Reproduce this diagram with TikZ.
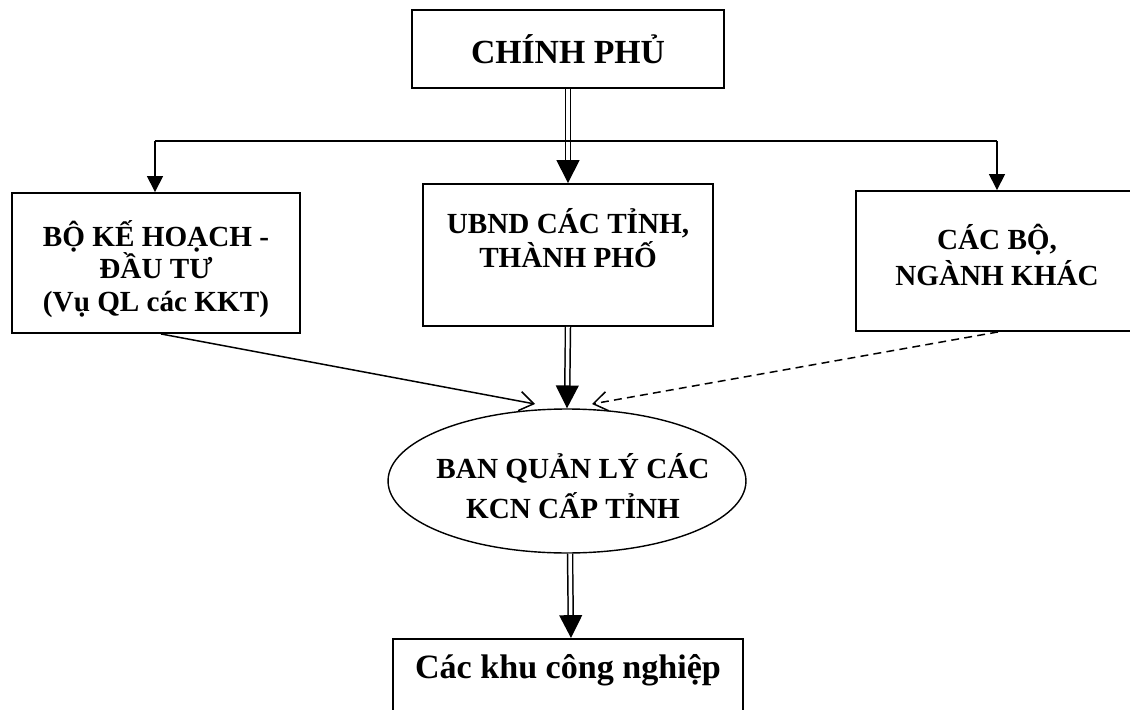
\documentclass[tikz,border=0pt]{standalone}
\usepackage{fontspec}
\setmainfont{Liberation Serif}
\usetikzlibrary{arrows.meta,shapes.geometric}

\begin{document}
\begin{tikzpicture}[x=0.02cm,y=-0.02cm,
    khung/.style={draw,line width=1.1pt,inner sep=0pt},
    chu/.style={align=center,font=\bfseries\fontsize{16.6}{19.5}\selectfont},
    kep/.style={double,double distance=2pt,line width=0.85pt,
      -{Triangle[length=13pt,width=13pt]}},
    mui/.style={line width=0.85pt,-{Triangle[length=9pt,width=9pt]}},
    mo/.style={line width=0.85pt,-{Straight Barb[length=8pt,width=11pt]}}]
  \useasboundingbox (0,0) rectangle (1130,710);

  % Chinh phu
  \node[khung,minimum width=6.24cm,minimum height=1.56cm] (cp) at (568,49) {};
  \node[chu,font=\bfseries\fontsize{19.2}{22}\selectfont] (cpt) at (568,49) {CHÍNH PHỦ};

  % Ba co quan
  \node[khung,minimum width=5.76cm,minimum height=2.8cm] (kh) at (156,263) {};
  \node[chu,font=\bfseries\fontsize{16.6}{18.7}\selectfont] (kht) at (156,269)
    {BỘ KẾ HOẠCH -\\ĐẦU TƯ\\(Vụ QL các KKT)};
  \node[khung,minimum width=5.8cm,minimum height=2.84cm] (ub) at (568,255) {};
  \node[chu] (ubt) at (568,238) {UBND CÁC TỈNH,\\THÀNH PHỐ};
  \node[khung,minimum width=5.68cm,minimum height=2.8cm] (cb) at (998,261) {};
  \node[chu,font=\bfseries\fontsize{16.6}{20}\selectfont] (cbt) at (997,255)
    {CÁC BỘ,\\NGÀNH KHÁC};

  % Ban quan ly
  \node[draw,ellipse,line width=0.8pt,inner sep=0pt,
    minimum width=7.16cm,minimum height=2.88cm] (bq) at (567,481) {};
  \node[chu,font=\bfseries\fontsize{16.6}{23}\selectfont] (bqt) at (573,486)
    {BAN QUẢN LÝ CÁC\\KCN CẤP TỈNH};

  % Cac khu cong nghiep
  \node[khung,minimum width=7cm,minimum height=2cm,anchor=north] (kcn) at (568,638) {};
  \node[chu,font=\bfseries\fontsize{19.4}{22}\selectfont] (kcnt) at (568,670)
    {Các khu công nghiệp};

  % Duong noi
  \coordinate (bl) at (155,141);
  \coordinate (br) at (997,141);
  \coordinate (pl) at (535,404);
  \coordinate (pr) at (592,404);
  \draw[kep] (cp.south) -- (ub.north);
  \draw[line width=0.85pt] (bl) -- (br);
  \draw[mui] (bl) -- (bl |- kh.north);
  \draw[mui] (br) -- (br |- cb.north);
  \draw[kep] (ub.south) -- (bq.north);
  \draw[mo] ([xshift=0.1cm]kh.south) -- (pl);
  \draw[mo,dash pattern=on 4.5pt off 3pt] (cb.south) -- (pr);
  \draw[kep] ([xshift=0.06cm]bq.south) -- ([xshift=0.06cm]kcn.north);
\end{tikzpicture}
\end{document}
